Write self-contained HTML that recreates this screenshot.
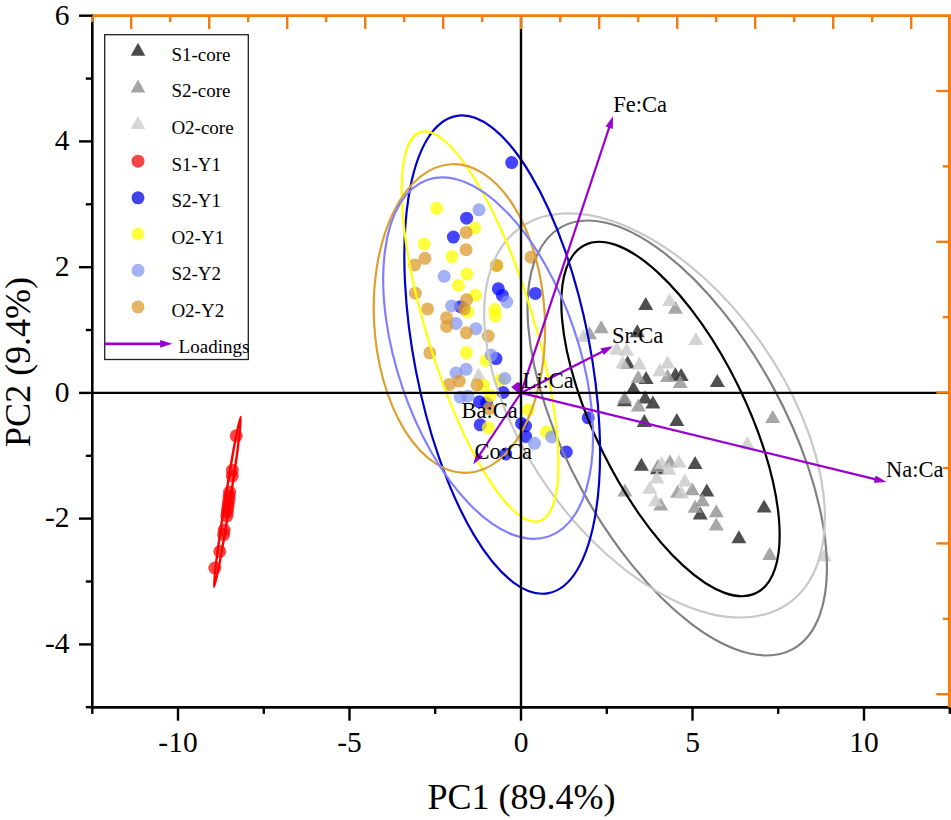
<!DOCTYPE html>
<html><head><meta charset="utf-8"><style>
html,body{margin:0;padding:0;background:#fff;}
svg{display:block;}
text{font-family:"Liberation Serif",serif;fill:#000;}
.tick{font-size:29.5px;}
.title{font-size:36px;}
.leg{font-size:19px;}
.lab{font-size:22.5px;}
</style></head><body>
<svg width="951" height="820" viewBox="0 0 951 820">
<rect width="951" height="820" fill="#fff"/>
<polygon points="624.5,393.3 632.0,406.3 617.0,406.3" fill="rgba(60,60,60,0.9)"/>
<polygon points="657.6,461.3 665.1,474.3 650.1,474.3" fill="rgba(60,60,60,0.9)"/>
<polygon points="645.7,296.9 653.2,309.9 638.2,309.9" fill="rgba(60,60,60,0.9)"/>
<polygon points="637.3,324.2 644.8,337.2 629.8,337.2" fill="rgba(60,60,60,0.9)"/>
<polygon points="627.6,355.5 635.1,368.5 620.1,368.5" fill="rgba(60,60,60,0.9)"/>
<polygon points="675.4,367.2 682.9,380.2 667.9,380.2" fill="rgba(60,60,60,0.9)"/>
<polygon points="681.2,368.1 688.7,381.1 673.7,381.1" fill="rgba(60,60,60,0.9)"/>
<polygon points="646.1,371.1 653.6,384.1 638.6,384.1" fill="rgba(60,60,60,0.9)"/>
<polygon points="717.3,374.0 724.8,387.0 709.8,387.0" fill="rgba(60,60,60,0.9)"/>
<polygon points="633.4,380.8 640.9,393.8 625.9,393.8" fill="rgba(60,60,60,0.9)"/>
<polygon points="645.1,390.6 652.6,403.6 637.6,403.6" fill="rgba(60,60,60,0.9)"/>
<polygon points="652.9,395.5 660.4,408.5 645.4,408.5" fill="rgba(60,60,60,0.9)"/>
<polygon points="644.3,414.0 651.8,427.0 636.8,427.0" fill="rgba(60,60,60,0.9)"/>
<polygon points="676.8,413.0 684.3,426.0 669.3,426.0" fill="rgba(60,60,60,0.9)"/>
<polygon points="641.4,457.7 648.9,470.7 633.9,470.7" fill="rgba(60,60,60,0.9)"/>
<polygon points="695.1,455.9 702.6,468.9 687.6,468.9" fill="rgba(60,60,60,0.9)"/>
<polygon points="706.8,483.4 714.3,496.4 699.3,496.4" fill="rgba(60,60,60,0.9)"/>
<polygon points="700.2,506.4 707.7,519.4 692.7,519.4" fill="rgba(60,60,60,0.9)"/>
<polygon points="738.9,530.2 746.4,543.2 731.4,543.2" fill="rgba(60,60,60,0.9)"/>
<polygon points="764.1,499.4 771.6,512.4 756.6,512.4" fill="rgba(60,60,60,0.9)"/>
<polygon points="675.4,300.8 682.9,313.8 667.9,313.8" fill="rgba(150,150,150,0.85)"/>
<polygon points="601.2,320.3 608.7,333.3 593.7,333.3" fill="rgba(150,150,150,0.85)"/>
<polygon points="589.5,326.2 597.0,339.2 582.0,339.2" fill="rgba(150,150,150,0.85)"/>
<polygon points="638.3,370.1 645.8,383.1 630.8,383.1" fill="rgba(150,150,150,0.85)"/>
<polygon points="667.6,369.1 675.1,382.1 660.1,382.1" fill="rgba(150,150,150,0.85)"/>
<polygon points="680.2,375.0 687.7,388.0 672.7,388.0" fill="rgba(150,150,150,0.85)"/>
<polygon points="624.6,390.6 632.1,403.6 617.1,403.6" fill="rgba(150,150,150,0.85)"/>
<polygon points="657.8,458.9 665.3,471.9 650.3,471.9" fill="rgba(150,150,150,0.85)"/>
<polygon points="670.0,454.6 677.5,467.6 662.5,467.6" fill="rgba(150,150,150,0.85)"/>
<polygon points="624.9,483.5 632.4,496.5 617.4,496.5" fill="rgba(150,150,150,0.85)"/>
<polygon points="677.6,484.7 685.1,497.7 670.1,497.7" fill="rgba(150,150,150,0.85)"/>
<polygon points="692.2,482.3 699.7,495.3 684.7,495.3" fill="rgba(150,150,150,0.85)"/>
<polygon points="660.7,497.6 668.2,510.6 653.2,510.6" fill="rgba(150,150,150,0.85)"/>
<polygon points="702.4,493.3 709.9,506.3 694.9,506.3" fill="rgba(150,150,150,0.85)"/>
<polygon points="695.1,499.8 702.6,512.8 687.6,512.8" fill="rgba(150,150,150,0.85)"/>
<polygon points="716.3,504.2 723.8,517.2 708.8,517.2" fill="rgba(150,150,150,0.85)"/>
<polygon points="716.3,517.4 723.8,530.4 708.8,530.4" fill="rgba(150,150,150,0.85)"/>
<polygon points="769.7,547.0 777.2,560.0 762.2,560.0" fill="rgba(150,150,150,0.85)"/>
<polygon points="772.7,410.1 780.2,423.1 765.2,423.1" fill="rgba(150,150,150,0.85)"/>
<polygon points="638.3,398.4 645.8,411.4 630.8,411.4" fill="rgba(150,150,150,0.85)"/>
<polygon points="669.5,293.0 677.0,306.0 662.0,306.0" fill="rgba(205,205,205,0.85)"/>
<polygon points="695.9,332.0 703.4,345.0 688.4,345.0" fill="rgba(205,205,205,0.85)"/>
<polygon points="626.6,342.8 634.1,355.8 619.1,355.8" fill="rgba(205,205,205,0.85)"/>
<polygon points="616.8,341.8 624.3,354.8 609.3,354.8" fill="rgba(205,205,205,0.85)"/>
<polygon points="622.7,355.5 630.2,368.5 615.2,368.5" fill="rgba(205,205,205,0.85)"/>
<polygon points="639.3,356.4 646.8,369.4 631.8,369.4" fill="rgba(205,205,205,0.85)"/>
<polygon points="667.6,355.5 675.1,368.5 660.1,368.5" fill="rgba(205,205,205,0.85)"/>
<polygon points="659.8,363.3 667.3,376.3 652.3,376.3" fill="rgba(205,205,205,0.85)"/>
<polygon points="661.5,455.9 669.0,468.9 654.0,468.9" fill="rgba(205,205,205,0.85)"/>
<polygon points="679.0,454.5 686.5,467.5 671.5,467.5" fill="rgba(205,205,205,0.85)"/>
<polygon points="668.8,461.8 676.3,474.8 661.3,474.8" fill="rgba(205,205,205,0.85)"/>
<polygon points="657.0,470.6 664.5,483.6 649.5,483.6" fill="rgba(205,205,205,0.85)"/>
<polygon points="684.9,473.5 692.4,486.5 677.4,486.5" fill="rgba(205,205,205,0.85)"/>
<polygon points="649.8,480.8 657.3,493.8 642.3,493.8" fill="rgba(205,205,205,0.85)"/>
<polygon points="655.6,493.3 663.1,506.3 648.1,506.3" fill="rgba(205,205,205,0.85)"/>
<polygon points="681.4,485.4 688.9,498.4 673.9,498.4" fill="rgba(205,205,205,0.85)"/>
<polygon points="747.3,436.3 754.8,449.3 739.8,449.3" fill="rgba(205,205,205,0.85)"/>
<polygon points="824.4,548.5 831.9,561.5 816.9,561.5" fill="rgba(205,205,205,0.85)"/>
<polygon points="478.7,367.8 486.2,380.8 471.2,380.8" fill="rgba(205,205,205,0.85)"/>
<polygon points="583.5,329.0 591.0,342.0 576.0,342.0" fill="rgba(205,205,205,0.85)"/>
<circle cx="236.2" cy="435.8" r="6.5" fill="rgba(255,0,0,0.72)"/>
<circle cx="232.3" cy="470.3" r="6.5" fill="rgba(255,0,0,0.72)"/>
<circle cx="232.3" cy="475.9" r="6.5" fill="rgba(255,0,0,0.72)"/>
<circle cx="229.6" cy="492.0" r="6.5" fill="rgba(255,0,0,0.72)"/>
<circle cx="229.2" cy="496.0" r="6.5" fill="rgba(255,0,0,0.72)"/>
<circle cx="228.8" cy="500.0" r="6.5" fill="rgba(255,0,0,0.72)"/>
<circle cx="228.3" cy="504.0" r="6.5" fill="rgba(255,0,0,0.72)"/>
<circle cx="227.8" cy="508.0" r="6.5" fill="rgba(255,0,0,0.72)"/>
<circle cx="227.3" cy="512.0" r="6.5" fill="rgba(255,0,0,0.72)"/>
<circle cx="226.8" cy="516.0" r="6.5" fill="rgba(255,0,0,0.72)"/>
<circle cx="224.2" cy="530.0" r="6.5" fill="rgba(255,0,0,0.72)"/>
<circle cx="223.6" cy="534.6" r="6.5" fill="rgba(255,0,0,0.72)"/>
<circle cx="219.8" cy="551.5" r="6.5" fill="rgba(255,0,0,0.72)"/>
<circle cx="214.8" cy="568.0" r="6.5" fill="rgba(255,0,0,0.72)"/>
<circle cx="511.7" cy="162.6" r="6.5" fill="rgba(0,0,255,0.73)"/>
<circle cx="466.6" cy="218.2" r="6.5" fill="rgba(0,0,255,0.73)"/>
<circle cx="453.4" cy="237.1" r="6.5" fill="rgba(0,0,255,0.73)"/>
<circle cx="498.3" cy="288.8" r="6.5" fill="rgba(0,0,255,0.73)"/>
<circle cx="502.4" cy="295.4" r="6.5" fill="rgba(0,0,255,0.73)"/>
<circle cx="460.5" cy="306.7" r="6.5" fill="rgba(0,0,255,0.73)"/>
<circle cx="496.0" cy="358.6" r="6.5" fill="rgba(0,0,255,0.73)"/>
<circle cx="503.1" cy="392.5" r="6.5" fill="rgba(0,0,255,0.73)"/>
<circle cx="479.5" cy="401.8" r="6.5" fill="rgba(0,0,255,0.73)"/>
<circle cx="486.5" cy="403.0" r="6.5" fill="rgba(0,0,255,0.73)"/>
<circle cx="480.2" cy="424.8" r="6.5" fill="rgba(0,0,255,0.73)"/>
<circle cx="521.5" cy="423.5" r="6.5" fill="rgba(0,0,255,0.73)"/>
<circle cx="525.5" cy="426.0" r="6.5" fill="rgba(0,0,255,0.73)"/>
<circle cx="525.6" cy="436.4" r="6.5" fill="rgba(0,0,255,0.73)"/>
<circle cx="566.3" cy="452.0" r="6.5" fill="rgba(0,0,255,0.73)"/>
<circle cx="505.7" cy="454.0" r="6.5" fill="rgba(0,0,255,0.73)"/>
<circle cx="588.2" cy="417.8" r="6.5" fill="rgba(0,0,255,0.73)"/>
<circle cx="535.3" cy="293.4" r="6.5" fill="rgba(0,0,255,0.73)"/>
<circle cx="436.6" cy="208.3" r="6.5" fill="rgba(255,255,0,0.75)"/>
<circle cx="474.6" cy="228.0" r="6.5" fill="rgba(255,255,0,0.75)"/>
<circle cx="424.1" cy="243.9" r="6.5" fill="rgba(255,255,0,0.75)"/>
<circle cx="452.0" cy="256.6" r="6.5" fill="rgba(255,255,0,0.75)"/>
<circle cx="467.0" cy="274.1" r="6.5" fill="rgba(255,255,0,0.75)"/>
<circle cx="458.5" cy="285.4" r="6.5" fill="rgba(255,255,0,0.75)"/>
<circle cx="475.4" cy="295.1" r="6.5" fill="rgba(255,255,0,0.75)"/>
<circle cx="467.8" cy="311.8" r="6.5" fill="rgba(255,255,0,0.75)"/>
<circle cx="494.9" cy="309.6" r="6.5" fill="rgba(255,255,0,0.75)"/>
<circle cx="495.3" cy="316.0" r="6.5" fill="rgba(255,255,0,0.75)"/>
<circle cx="466.3" cy="352.6" r="6.5" fill="rgba(255,255,0,0.75)"/>
<circle cx="485.8" cy="360.5" r="6.5" fill="rgba(255,255,0,0.75)"/>
<circle cx="499.8" cy="380.2" r="6.5" fill="rgba(255,255,0,0.75)"/>
<circle cx="483.7" cy="385.3" r="6.5" fill="rgba(255,255,0,0.75)"/>
<circle cx="490.3" cy="395.6" r="6.5" fill="rgba(255,255,0,0.75)"/>
<circle cx="488.3" cy="427.7" r="6.5" fill="rgba(255,255,0,0.75)"/>
<circle cx="528.3" cy="409.9" r="6.5" fill="rgba(255,255,0,0.75)"/>
<circle cx="546.4" cy="432.1" r="6.5" fill="rgba(255,255,0,0.75)"/>
<circle cx="496.6" cy="265.4" r="6.5" fill="rgba(255,255,0,0.75)"/>
<circle cx="479.0" cy="209.8" r="6.5" fill="rgba(129,147,240,0.72)"/>
<circle cx="444.2" cy="276.3" r="6.5" fill="rgba(129,147,240,0.72)"/>
<circle cx="506.8" cy="302.0" r="6.5" fill="rgba(129,147,240,0.72)"/>
<circle cx="451.7" cy="306.0" r="6.5" fill="rgba(129,147,240,0.72)"/>
<circle cx="456.1" cy="323.5" r="6.5" fill="rgba(129,147,240,0.72)"/>
<circle cx="475.9" cy="328.7" r="6.5" fill="rgba(129,147,240,0.72)"/>
<circle cx="491.2" cy="355.0" r="6.5" fill="rgba(129,147,240,0.72)"/>
<circle cx="466.1" cy="369.3" r="6.5" fill="rgba(129,147,240,0.72)"/>
<circle cx="456.0" cy="373.1" r="6.5" fill="rgba(129,147,240,0.72)"/>
<circle cx="504.8" cy="378.5" r="6.5" fill="rgba(129,147,240,0.72)"/>
<circle cx="460.2" cy="397.1" r="6.5" fill="rgba(129,147,240,0.72)"/>
<circle cx="467.8" cy="396.2" r="6.5" fill="rgba(129,147,240,0.72)"/>
<circle cx="534.5" cy="443.3" r="6.5" fill="rgba(129,147,240,0.72)"/>
<circle cx="551.7" cy="437.0" r="6.5" fill="rgba(129,147,240,0.72)"/>
<circle cx="466.1" cy="232.4" r="6.5" fill="rgba(218,151,40,0.72)"/>
<circle cx="466.1" cy="249.7" r="6.5" fill="rgba(218,151,40,0.72)"/>
<circle cx="424.9" cy="258.3" r="6.5" fill="rgba(218,151,40,0.72)"/>
<circle cx="414.6" cy="264.9" r="6.5" fill="rgba(218,151,40,0.72)"/>
<circle cx="496.6" cy="265.4" r="6.5" fill="rgba(218,151,40,0.72)"/>
<circle cx="415.4" cy="293.2" r="6.5" fill="rgba(218,151,40,0.72)"/>
<circle cx="466.6" cy="299.8" r="6.5" fill="rgba(218,151,40,0.72)"/>
<circle cx="427.6" cy="308.9" r="6.5" fill="rgba(218,151,40,0.72)"/>
<circle cx="464.1" cy="308.9" r="6.5" fill="rgba(218,151,40,0.72)"/>
<circle cx="446.6" cy="317.7" r="6.5" fill="rgba(218,151,40,0.72)"/>
<circle cx="446.6" cy="326.5" r="6.5" fill="rgba(218,151,40,0.72)"/>
<circle cx="466.3" cy="332.8" r="6.5" fill="rgba(218,151,40,0.72)"/>
<circle cx="488.3" cy="336.0" r="6.5" fill="rgba(218,151,40,0.72)"/>
<circle cx="429.8" cy="352.8" r="6.5" fill="rgba(218,151,40,0.72)"/>
<circle cx="459.3" cy="381.1" r="6.5" fill="rgba(218,151,40,0.72)"/>
<circle cx="449.3" cy="384.4" r="6.5" fill="rgba(218,151,40,0.72)"/>
<circle cx="477.0" cy="384.9" r="6.5" fill="rgba(218,151,40,0.72)"/>
<circle cx="488.8" cy="408.6" r="6.5" fill="rgba(218,151,40,0.72)"/>
<circle cx="531.1" cy="257.2" r="6.5" fill="rgba(218,151,40,0.72)"/>
<ellipse cx="670.5" cy="419.0" rx="194.0" ry="75.4" transform="rotate(-116.2 670.5 419.0)" fill="none" stroke="#000000" stroke-width="2.2"/>
<ellipse cx="677.2" cy="438.0" rx="240.7" ry="108.5" transform="rotate(-118.7 677.2 438.0)" fill="none" stroke="#808080" stroke-width="2.2"/>
<ellipse cx="654.5" cy="415.4" rx="230.8" ry="128.9" transform="rotate(-125.6 654.5 415.4)" fill="none" stroke="#c8c8c8" stroke-width="2.2"/>
<ellipse cx="502.2" cy="354.6" rx="243.0" ry="87.8" transform="rotate(-101.0 502.2 354.6)" fill="none" stroke="#0000c8" stroke-width="2.2"/>
<ellipse cx="480.1" cy="326.6" rx="203.4" ry="53.4" transform="rotate(-107.0 480.1 326.6)" fill="none" stroke="#ffff00" stroke-width="2.2"/>
<ellipse cx="459.4" cy="318.5" rx="154.5" ry="85.4" transform="rotate(-93.1 459.4 318.5)" fill="none" stroke="#dca030" stroke-width="2.2"/>
<ellipse cx="488.1" cy="358.1" rx="188.3" ry="90.6" transform="rotate(-108.7 488.1 358.1)" fill="none" stroke="#8080ff" stroke-width="2.2"/>
<ellipse cx="227.4" cy="501.9" rx="86.0" ry="2.5" transform="rotate(98.9 227.4 501.9)" fill="none" stroke="#ff0000" stroke-width="2.4"/>
<line x1="521.0" y1="392.9" x2="609.5" y2="126.7" stroke="#9a00d0" stroke-width="2.2"/><polygon points="613.0,116.3 612.8,128.9 605.6,126.5" fill="#9a00d0"/>
<line x1="521.0" y1="392.9" x2="603.1" y2="351.3" stroke="#9a00d0" stroke-width="2.2"/><polygon points="612.9,346.3 603.9,355.1 600.5,348.3" fill="#9a00d0"/>
<line x1="521.0" y1="392.9" x2="479.3" y2="455.3" stroke="#9a00d0" stroke-width="2.2"/><polygon points="473.2,464.4 476.7,452.3 483.0,456.5" fill="#9a00d0"/>
<line x1="521.0" y1="392.9" x2="875.8" y2="479.4" stroke="#9a00d0" stroke-width="2.2"/><polygon points="886.5,482.0 873.9,482.8 875.7,475.5" fill="#9a00d0"/>
<polygon points="511.2,387.0 517.5,382.2 521.5,383.0 522,392.5 517,392" fill="#9a00d0"/>
<line x1="92" y1="392.9" x2="949" y2="392.9" stroke="#000" stroke-width="2.4"/>
<line x1="521.0" y1="16" x2="521.0" y2="707" stroke="#000" stroke-width="2.4"/>
<text x="613.2" y="112.3" class="lab">Fe:Ca</text>
<text x="612.0" y="342.6" class="lab">Sr:Ca</text>
<text x="522.6" y="388.3" class="lab">Li:Ca</text>
<text x="461.4" y="417.6" class="lab">Ba:Ca</text>
<text x="474.6" y="458.7" class="lab">Co:Ca</text>
<text x="886.0" y="477.4" class="lab">Na:Ca</text>
<line x1="92.3" y1="14.4" x2="92.3" y2="708.6" stroke="#000" stroke-width="2.6"/>
<line x1="91" y1="707.4" x2="950" y2="707.4" stroke="#000" stroke-width="2.6"/>
<line x1="92.3" y1="15.7" x2="951" y2="15.7" stroke="#f37c0e" stroke-width="2.8"/>
<line x1="949.4" y1="15.7" x2="949.4" y2="707.4" stroke="#f37c0e" stroke-width="3"/>
<line x1="92.2" y1="15.7" x2="92.2" y2="22.2" stroke="#f37c0e" stroke-width="2.4"/>
<line x1="131.2" y1="15.7" x2="131.2" y2="29.0" stroke="#f37c0e" stroke-width="2.4"/>
<line x1="170.2" y1="15.7" x2="170.2" y2="22.2" stroke="#f37c0e" stroke-width="2.4"/>
<line x1="209.2" y1="15.7" x2="209.2" y2="29.0" stroke="#f37c0e" stroke-width="2.4"/>
<line x1="248.2" y1="15.7" x2="248.2" y2="22.2" stroke="#f37c0e" stroke-width="2.4"/>
<line x1="287.2" y1="15.7" x2="287.2" y2="29.0" stroke="#f37c0e" stroke-width="2.4"/>
<line x1="326.2" y1="15.7" x2="326.2" y2="22.2" stroke="#f37c0e" stroke-width="2.4"/>
<line x1="365.2" y1="15.7" x2="365.2" y2="29.0" stroke="#f37c0e" stroke-width="2.4"/>
<line x1="404.2" y1="15.7" x2="404.2" y2="22.2" stroke="#f37c0e" stroke-width="2.4"/>
<line x1="443.2" y1="15.7" x2="443.2" y2="29.0" stroke="#f37c0e" stroke-width="2.4"/>
<line x1="482.2" y1="15.7" x2="482.2" y2="22.2" stroke="#f37c0e" stroke-width="2.4"/>
<line x1="521.2" y1="15.7" x2="521.2" y2="29.0" stroke="#f37c0e" stroke-width="2.4"/>
<line x1="560.2" y1="15.7" x2="560.2" y2="22.2" stroke="#f37c0e" stroke-width="2.4"/>
<line x1="599.2" y1="15.7" x2="599.2" y2="29.0" stroke="#f37c0e" stroke-width="2.4"/>
<line x1="638.2" y1="15.7" x2="638.2" y2="22.2" stroke="#f37c0e" stroke-width="2.4"/>
<line x1="677.2" y1="15.7" x2="677.2" y2="29.0" stroke="#f37c0e" stroke-width="2.4"/>
<line x1="716.2" y1="15.7" x2="716.2" y2="22.2" stroke="#f37c0e" stroke-width="2.4"/>
<line x1="755.2" y1="15.7" x2="755.2" y2="29.0" stroke="#f37c0e" stroke-width="2.4"/>
<line x1="794.2" y1="15.7" x2="794.2" y2="22.2" stroke="#f37c0e" stroke-width="2.4"/>
<line x1="833.2" y1="15.7" x2="833.2" y2="29.0" stroke="#f37c0e" stroke-width="2.4"/>
<line x1="872.2" y1="15.7" x2="872.2" y2="22.2" stroke="#f37c0e" stroke-width="2.4"/>
<line x1="911.2" y1="15.7" x2="911.2" y2="29.0" stroke="#f37c0e" stroke-width="2.4"/>
<line x1="936.3" y1="91.0" x2="949" y2="91.0" stroke="#f37c0e" stroke-width="2.4"/>
<line x1="942.8" y1="166.4" x2="949" y2="166.4" stroke="#f37c0e" stroke-width="2.4"/>
<line x1="936.3" y1="241.8" x2="949" y2="241.8" stroke="#f37c0e" stroke-width="2.4"/>
<line x1="942.8" y1="317.2" x2="949" y2="317.2" stroke="#f37c0e" stroke-width="2.4"/>
<line x1="936.3" y1="392.6" x2="949" y2="392.6" stroke="#f37c0e" stroke-width="2.4"/>
<line x1="942.8" y1="468.0" x2="949" y2="468.0" stroke="#f37c0e" stroke-width="2.4"/>
<line x1="936.3" y1="543.4" x2="949" y2="543.4" stroke="#f37c0e" stroke-width="2.4"/>
<line x1="942.8" y1="618.8" x2="949" y2="618.8" stroke="#f37c0e" stroke-width="2.4"/>
<line x1="936.3" y1="694.2" x2="949" y2="694.2" stroke="#f37c0e" stroke-width="2.4"/>
<line x1="79.0" y1="15.7" x2="92.3" y2="15.7" stroke="#000" stroke-width="2.4"/>
<text x="69.6" y="24.5" class="tick" text-anchor="end">6</text>
<line x1="85.8" y1="78.6" x2="92.3" y2="78.6" stroke="#000" stroke-width="2.4"/>
<line x1="79.0" y1="141.4" x2="92.3" y2="141.4" stroke="#000" stroke-width="2.4"/>
<text x="69.6" y="150.2" class="tick" text-anchor="end">4</text>
<line x1="85.8" y1="204.3" x2="92.3" y2="204.3" stroke="#000" stroke-width="2.4"/>
<line x1="79.0" y1="267.2" x2="92.3" y2="267.2" stroke="#000" stroke-width="2.4"/>
<text x="69.6" y="276.0" class="tick" text-anchor="end">2</text>
<line x1="85.8" y1="330.0" x2="92.3" y2="330.0" stroke="#000" stroke-width="2.4"/>
<line x1="79.0" y1="392.9" x2="92.3" y2="392.9" stroke="#000" stroke-width="2.4"/>
<text x="69.6" y="401.7" class="tick" text-anchor="end">0</text>
<line x1="85.8" y1="455.8" x2="92.3" y2="455.8" stroke="#000" stroke-width="2.4"/>
<line x1="79.0" y1="518.6" x2="92.3" y2="518.6" stroke="#000" stroke-width="2.4"/>
<text x="69.6" y="527.4" class="tick" text-anchor="end">-2</text>
<line x1="85.8" y1="581.5" x2="92.3" y2="581.5" stroke="#000" stroke-width="2.4"/>
<line x1="79.0" y1="644.4" x2="92.3" y2="644.4" stroke="#000" stroke-width="2.4"/>
<text x="69.6" y="653.2" class="tick" text-anchor="end">-4</text>
<line x1="85.8" y1="707.2" x2="92.3" y2="707.2" stroke="#000" stroke-width="2.4"/>
<line x1="92.3" y1="707.4" x2="92.3" y2="713.9" stroke="#000" stroke-width="2.4"/>
<line x1="178.0" y1="707.4" x2="178.0" y2="720.7" stroke="#000" stroke-width="2.4"/>
<text x="178.0" y="752.4" class="tick" text-anchor="middle">-10</text>
<line x1="263.8" y1="707.4" x2="263.8" y2="713.9" stroke="#000" stroke-width="2.4"/>
<line x1="349.5" y1="707.4" x2="349.5" y2="720.7" stroke="#000" stroke-width="2.4"/>
<text x="349.5" y="752.4" class="tick" text-anchor="middle">-5</text>
<line x1="435.2" y1="707.4" x2="435.2" y2="713.9" stroke="#000" stroke-width="2.4"/>
<line x1="521.0" y1="707.4" x2="521.0" y2="720.7" stroke="#000" stroke-width="2.4"/>
<text x="521.0" y="752.4" class="tick" text-anchor="middle">0</text>
<line x1="606.8" y1="707.4" x2="606.8" y2="713.9" stroke="#000" stroke-width="2.4"/>
<line x1="692.5" y1="707.4" x2="692.5" y2="720.7" stroke="#000" stroke-width="2.4"/>
<text x="692.5" y="752.4" class="tick" text-anchor="middle">5</text>
<line x1="778.2" y1="707.4" x2="778.2" y2="713.9" stroke="#000" stroke-width="2.4"/>
<line x1="864.0" y1="707.4" x2="864.0" y2="720.7" stroke="#000" stroke-width="2.4"/>
<text x="864.0" y="752.4" class="tick" text-anchor="middle">10</text>
<line x1="949.8" y1="707.4" x2="949.8" y2="713.9" stroke="#000" stroke-width="2.4"/>
<line x1="1035.5" y1="707.4" x2="1035.5" y2="720.7" stroke="#000" stroke-width="2.4"/>
<text x="1035.5" y="752.4" class="tick" text-anchor="middle">15</text>
<line x1="1121.2" y1="707.4" x2="1121.2" y2="713.9" stroke="#000" stroke-width="2.4"/>
<line x1="1207.0" y1="707.4" x2="1207.0" y2="720.7" stroke="#000" stroke-width="2.4"/>
<text x="1207.0" y="752.4" class="tick" text-anchor="middle">20</text>
<line x1="1292.8" y1="707.4" x2="1292.8" y2="713.9" stroke="#000" stroke-width="2.4"/>
<line x1="1378.5" y1="707.4" x2="1378.5" y2="720.7" stroke="#000" stroke-width="2.4"/>
<text x="1378.5" y="752.4" class="tick" text-anchor="middle">25</text>
<line x1="1464.2" y1="707.4" x2="1464.2" y2="713.9" stroke="#000" stroke-width="2.4"/>
<line x1="1550.0" y1="707.4" x2="1550.0" y2="720.7" stroke="#000" stroke-width="2.4"/>
<text x="1550.0" y="752.4" class="tick" text-anchor="middle">30</text>
<line x1="1635.8" y1="707.4" x2="1635.8" y2="713.9" stroke="#000" stroke-width="2.4"/>
<line x1="1721.5" y1="707.4" x2="1721.5" y2="720.7" stroke="#000" stroke-width="2.4"/>
<text x="1721.5" y="752.4" class="tick" text-anchor="middle">35</text>
<line x1="1807.2" y1="707.4" x2="1807.2" y2="713.9" stroke="#000" stroke-width="2.4"/>
<text x="521.5" y="809.2" class="title" text-anchor="middle">PC1 (89.4%)</text>
<text transform="translate(30,361.9) rotate(-90)" class="title" text-anchor="middle">PC2 (9.4%)</text>
<rect x="104.7" y="34.7" width="143.6" height="324.8" fill="#fff" stroke="#222" stroke-width="1.3"/>
<polygon points="138.0,42.7 145.3,55.7 130.7,55.7" fill="#4b4b4b"/>
<text x="171.4" y="60.7" class="leg">S1-core</text>
<polygon points="138.0,79.4 145.3,92.4 130.7,92.4" fill="#a4a4a4"/>
<text x="171.4" y="97.3" class="leg">S2-core</text>
<polygon points="138.0,115.9 145.3,128.9 130.7,128.9" fill="#d6d6d6"/>
<text x="171.4" y="133.9" class="leg">O2-core</text>
<circle cx="138" cy="161.2" r="6.5" fill="#f14646"/>
<text x="171.4" y="170.5" class="leg">S1-Y1</text>
<circle cx="138" cy="197.8" r="6.5" fill="#4343ea"/>
<text x="171.4" y="207.1" class="leg">S2-Y1</text>
<circle cx="138" cy="234.0" r="6.5" fill="#ffff40"/>
<text x="171.4" y="243.7" class="leg">O2-Y1</text>
<circle cx="138" cy="270.3" r="6.5" fill="#a4b1f4"/>
<text x="171.4" y="280.3" class="leg">S2-Y2</text>
<circle cx="138" cy="306.9" r="6.5" fill="#e4b464"/>
<text x="171.4" y="316.9" class="leg">O2-Y2</text>
<line x1="104.7" y1="343.8" x2="161.1" y2="343.8" stroke="#9a00d0" stroke-width="2.7"/><polygon points="172.3,343.8 160.1,347.7 160.1,339.9" fill="#9a00d0"/>
<text x="178.6" y="353.4" class="leg">Loadings</text>
</svg></body></html>
